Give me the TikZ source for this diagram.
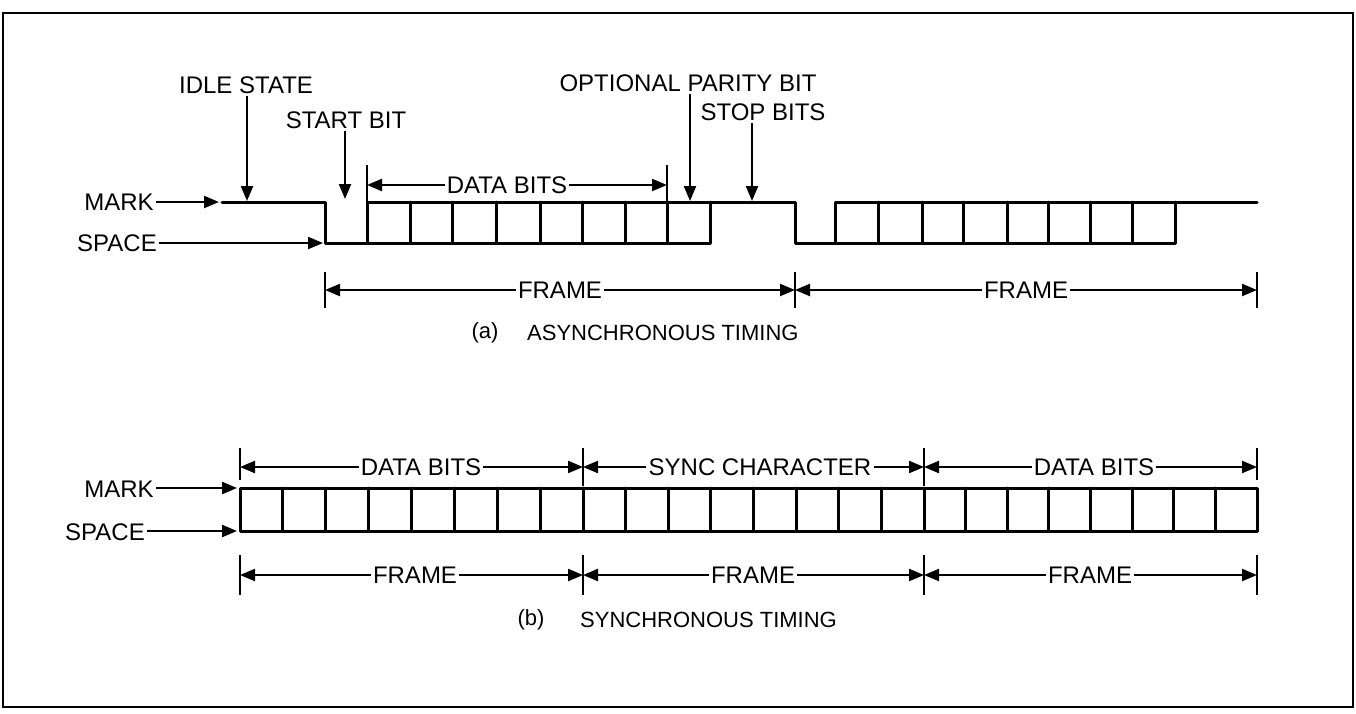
\documentclass[tikz,border=0pt]{standalone}
\usepackage{fontspec}
\setmainfont{Liberation Sans}
\usetikzlibrary{arrows.meta}
\begin{document}
\begin{tikzpicture}[x=1pt,y=-1pt,
  wave/.style={line width=3pt, line cap=round, line join=round},
  lbl/.style={font=\fontsize{24}{27}\selectfont, inner sep=2pt},
  captxt/.style={font=\fontsize{22}{26}\selectfont, inner sep=0pt},
  pt/.style={line width=2.2pt, -{Triangle[length=15pt,width=12pt]}},
  dimtick/.style={line width=2.6pt},
  border/.style={line width=1.8pt}]
\useasboundingbox (0,0) rectangle (1356,713);
\draw[border] (3,13) rectangle (1353,707);

% ================= (a) asynchronous =================
% waveform
\draw[wave] (222,202) -- (325,202) -- (325,243) -- (367,243) -- (367,202)
  -- (795,202) -- (795,243) -- (835,243) -- (835,202) -- (1257,202);
\draw[wave] (367,243) -- (710,243) -- (710,202);
\foreach \x in {410,452,496,540,582,625,667} \draw[wave] (\x,202) -- (\x,243);
\draw[wave] (835,243) -- (1175,243) -- (1175,202);
\foreach \x in {878,922,963,1007,1048,1090,1132} \draw[wave] (\x,202) -- (\x,243);

% mark / space labels
\node[lbl] (amk) at (119,202) {MARK};
\node[lbl] (asp) at (117,243) {SPACE};
\coordinate (amkT) at (219,202);
\coordinate (aspT) at (323,243);
\draw[pt] (amk.east |- amkT) -- (amkT);
\draw[pt] (asp.east |- aspT) -- (aspT);

% pointer labels
\node[lbl] (idle) at (246,85) {IDLE STATE};
\coordinate (idleT) at (247,201);
\draw[pt] (idle.south -| idleT) -- (idleT);

\node[lbl] (start) at (346,120) {START BIT};
\coordinate (startT) at (345,199);
\draw[pt] (start.south -| startT) -- (startT);

\node[lbl] (parity) at (688,83) {OPTIONAL PARITY BIT};
\coordinate (parityT) at (690,201);
\draw[pt] (parity.south -| parityT) -- (parityT);

\node[lbl] (stop) at (763,112) {STOP BITS};
\coordinate (stopT) at (752,201);
\draw[pt] (stop.south -| stopT) -- (stopT);

% data bits dimension
\coordinate (adL) at (367,185);
\coordinate (adR) at (667,185);
\draw[dimtick] (367,165) -- (367,202);
\draw[dimtick] (667,165) -- (667,202);
\node[lbl] (adtxt) at (507,185) {DATA BITS};
\draw[pt] (adtxt.west) -- (adL);
\draw[pt] (adtxt.east) -- (adR);

% frame dimensions
\coordinate (af0) at (325,290);
\coordinate (af1) at (795,290);
\coordinate (af2) at (1257,290);
\foreach \x in {325,795,1257} \draw[dimtick] (\x,272) -- (\x,308);
\node[lbl] (aframe1) at (560,290) {FRAME};
\node[lbl] (aframe2) at (1026,290) {FRAME};
\draw[pt] (aframe1.west) -- (af0);
\draw[pt] (aframe1.east) -- (af1);
\draw[pt] (aframe2.west) -- (af1);
\draw[pt] (aframe2.east) -- (af2);

% caption
\node[captxt] (capa) at (485,333) {(a)};
\node[captxt, anchor=west] (capatxt) at (527,333) {ASYNCHRONOUS TIMING};

% ================= (b) synchronous =================
\draw[wave] (240,488) rectangle (1257,531);
\foreach \i in {1,...,8} \draw[wave] ({240+\i*42.875},488) -- ++(0,43);
\foreach \i in {1,...,8} \draw[wave] ({583+\i*42.625},488) -- ++(0,43);
\foreach \i in {1,...,7} \draw[wave] ({924+\i*41.625},488) -- ++(0,43);

\node[lbl] (bmk) at (119,489) {MARK};
\node[lbl] (bsp) at (105,532) {SPACE};
\coordinate (bmkT) at (237,488);
\coordinate (bspT) at (237,531);
\draw[pt] (bmk.east |- bmkT) -- (bmkT);
\draw[pt] (bsp.east |- bspT) -- (bspT);

% top dimensions
\coordinate (bt0) at (240,467);
\coordinate (bt1) at (583,467);
\coordinate (bt2) at (924,467);
\coordinate (bt3) at (1257,467);
\draw[dimtick] (240,448) -- (240,480);
\draw[dimtick] (583,448) -- (583,486);
\draw[dimtick] (924,448) -- (924,486);
\draw[dimtick] (1257,448) -- (1257,480);
\node[lbl] (bd1) at (421,467) {DATA BITS};
\node[lbl] (bsync) at (760,467) {SYNC CHARACTER};
\node[lbl] (bd2) at (1094,467) {DATA BITS};
\draw[pt] (bd1.west) -- (bt0);
\draw[pt] (bd1.east) -- (bt1);
\draw[pt] (bsync.west) -- (bt1);
\draw[pt] (bsync.east) -- (bt2);
\draw[pt] (bd2.west) -- (bt2);
\draw[pt] (bd2.east) -- (bt3);

% bottom frame dimensions
\coordinate (bf0) at (240,575);
\coordinate (bf1) at (583,575);
\coordinate (bf2) at (924,575);
\coordinate (bf3) at (1257,575);
\foreach \x in {240,583,924,1257} \draw[dimtick] (\x,555) -- (\x,595);
\node[lbl] (bfr1) at (415,575) {FRAME};
\node[lbl] (bfr2) at (753,575) {FRAME};
\node[lbl] (bfr3) at (1090,575) {FRAME};
\draw[pt] (bfr1.west) -- (bf0);
\draw[pt] (bfr1.east) -- (bf1);
\draw[pt] (bfr2.west) -- (bf1);
\draw[pt] (bfr2.east) -- (bf2);
\draw[pt] (bfr3.west) -- (bf2);
\draw[pt] (bfr3.east) -- (bf3);

% caption
\node[captxt] (capb) at (531,620) {(b)};
\node[captxt, anchor=west] (capbtxt) at (580,620) {SYNCHRONOUS TIMING};
\end{tikzpicture}
\end{document}
